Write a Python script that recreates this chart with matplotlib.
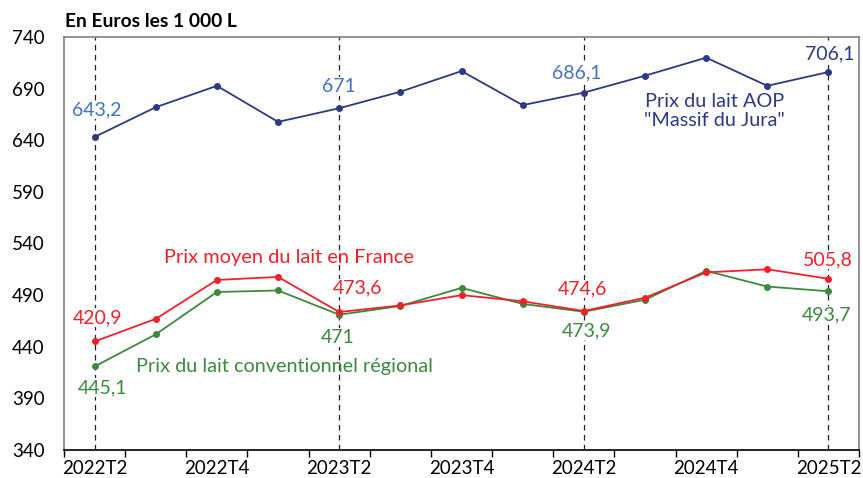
import numpy as np
import matplotlib
matplotlib.use("Agg")
import matplotlib.pyplot as plt
from matplotlib.ticker import FixedLocator

plt.rcParams["font.family"] = ["Lato", "DejaVu Sans"]

quarters = ["2022T2", "2022T3", "2022T4", "2023T1", "2023T2", "2023T3", "2023T4",
            "2024T1", "2024T2", "2024T3", "2024T4", "2025T1", "2025T2"]

prix_aop = [643.2, 672.0, 692.7, 657.8, 671.0, 687.0, 707.0,
            674.0, 686.1, 702.5, 720.0, 692.7, 706.1]
prix_france = [445.1, 467.0, 504.7, 507.6, 473.6, 480.0, 490.0,
               484.0, 474.6, 487.5, 512.0, 515.0, 505.8]
prix_regional = [420.9, 452.0, 493.0, 494.5, 471.0, 479.5, 497.0,
                 481.5, 473.9, 485.5, 513.5, 498.3, 493.7]

# labels as printed on the original chart (index, text)
aop_labels = [(0, "643,2"), (4, "671"), (8, "686,1"), (12, "706,1")]
france_labels = [(0, "420,9"), (4, "473,6"), (8, "474,6"), (12, "505,8")]
regional_labels = [(0, "445,1"), (4, "471"), (8, "473,9"), (12, "493,7")]

yticks = [340, 390, 440, 490, 540, 590, 640, 690, 740]

NAVY = "#2b3a86"
LIGHT_BLUE = "#4472c4"
RED = "#f0212b"
GREEN = "#3b8a3e"

x = np.arange(len(quarters))

fig = plt.figure(figsize=(8.63, 4.78), dpi=100)
ax = fig.add_axes([0.0742, 0.0586, 0.9212, 0.864])

for q in [0, 4, 8, 12]:
    ax.axvline(q, color="#222222", lw=0.9, ls=(0, (4.5, 3.5)), zorder=1)

ax.plot(x, prix_regional, color=GREEN, lw=1.3, marker="o", ms=4, zorder=3)
ax.plot(x, prix_france, color=RED, lw=1.3, marker="o", ms=4, zorder=4)
ax.plot(x, prix_aop, color=NAVY, lw=1.3, marker="o", ms=4, zorder=4)

box = dict(facecolor="white", edgecolor="none", pad=0.5)

aop_offsets = [(2, 27), (0, 22), (-7, 20), (1, 18)]
for (i, txt), (dx, dy) in zip(aop_labels, aop_offsets):
    col = NAVY if i == 12 else LIGHT_BLUE
    ax.annotate(txt, (x[i], prix_aop[i]), xytext=(dx, dy), textcoords="offset pixels",
                ha="center", va="center", fontsize=14, color=col, bbox=box, zorder=5)

france_offsets = [(3, 24), (18, 24), (-1, 22), (-1, 19)]
for (i, txt), (dx, dy) in zip(france_labels, france_offsets):
    ax.annotate(txt, (x[i], prix_france[i]), xytext=(dx, dy), textcoords="offset pixels",
                ha="center", va="center", fontsize=14, color=RED, bbox=box, zorder=5)

regional_offsets = [(8, -21), (-2, -23), (3, -19), (-2, -24)]
for (i, txt), (dx, dy) in zip(regional_labels, regional_offsets):
    ax.annotate(txt, (x[i], prix_regional[i]), xytext=(dx, dy), textcoords="offset pixels",
                ha="center", va="center", fontsize=14, color=GREEN, bbox=box, zorder=5)

ax.text(0.818, 0.821, 'Prix du lait AOP\n"Massif du Jura"', transform=ax.transAxes,
        ha="center", va="center", fontsize=14.3, color=NAVY, linespacing=1.1)
ax.text(0.2827, 0.467, "Prix moyen du lait en France", transform=ax.transAxes,
        ha="center", va="center", fontsize=14.4, color=RED)
ax.text(0.2767, 0.203, "Prix du lait conventionnel régional", transform=ax.transAxes,
        ha="center", va="center", fontsize=14.3, color=GREEN)

ax.set_xlim(-0.5, len(quarters) - 0.5)
ax.set_ylim(340, 740)
ax.set_yticks(yticks)
ax.tick_params(axis="y", length=0, pad=14, labelsize=13.5)

ax.set_xticks(x[::2])
ax.set_xticklabels(quarters[::2])
ax.xaxis.set_minor_locator(FixedLocator(np.arange(-0.5, len(quarters), 1.0)))
ax.tick_params(axis="x", which="major", length=0, pad=7, labelsize=13.5)
ax.tick_params(axis="x", which="minor", length=5, width=1, color="black", direction="out")

for side in ["left", "top", "right"]:
    ax.spines[side].set_color("#808080")
    ax.spines[side].set_linewidth(1.2)
ax.spines["bottom"].set_color("black")
ax.spines["bottom"].set_linewidth(1.2)

fig.text(0.0755, 0.954, "En Euros les 1 000 L", ha="left", va="center",
         fontsize=13.9, fontweight="bold")

fig.savefig("out.png", dpi=100)
